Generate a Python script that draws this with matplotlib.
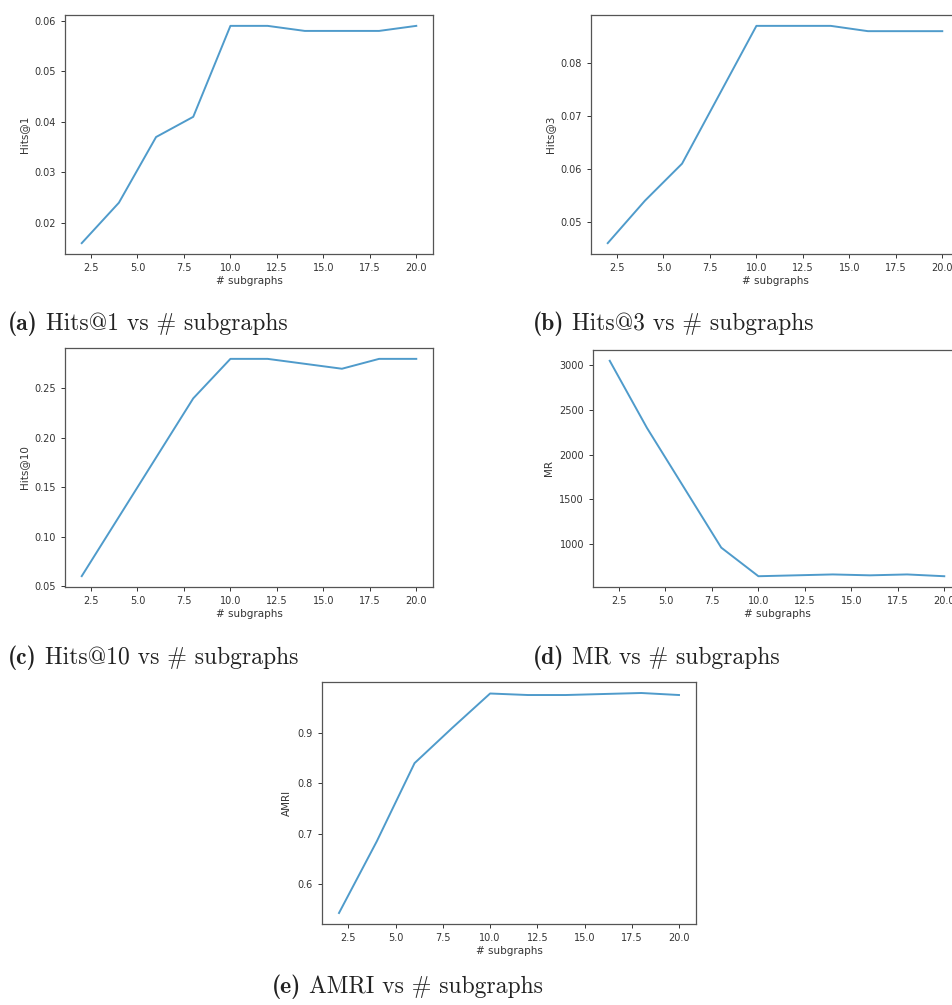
import matplotlib
matplotlib.use("Agg")
import matplotlib.pyplot as plt

# number of subgraphs on the x axis
subgraphs = [2, 4, 6, 8, 10, 12, 14, 16, 18, 20]

hits1 = [0.016, 0.024, 0.037, 0.041, 0.059, 0.059, 0.058, 0.058, 0.058, 0.059]
hits3 = [0.046, 0.054, 0.061, 0.074, 0.087, 0.087, 0.087, 0.086, 0.086, 0.086]
hits10 = [0.06, 0.12, 0.18, 0.24, 0.28, 0.28, 0.275, 0.27, 0.28, 0.28]
mr = [3050, 2300, 1630, 960, 640, 650, 660, 650, 660, 640]
amri = [0.543, 0.685, 0.84, 0.91, 0.978, 0.975, 0.975, 0.977, 0.979, 0.975]

xticks = [2.5, 5.0, 7.5, 10.0, 12.5, 15.0, 17.5, 20.0]
yticks_hits1 = [0.02, 0.03, 0.04, 0.05, 0.06]
yticks_hits3 = [0.05, 0.06, 0.07, 0.08]
yticks_hits10 = [0.05, 0.10, 0.15, 0.20, 0.25]
yticks_mr = [1000, 1500, 2000, 2500, 3000]
yticks_amri = [0.6, 0.7, 0.8, 0.9]

W, H = 952, 1005
fig = plt.figure(figsize=(W / 100, H / 100), dpi=100)

line_color = "#4f9bcb"
text_color = "#333333"
captions = []


def panel(box, y, ylabel, yticks, tag, caption, cap_xy):
    # box is (left, top, right, bottom) in pixels
    l, t, r, b = box
    ax = fig.add_axes([l / W, 1 - b / H, (r - l) / W, (b - t) / H])
    ax.plot(subgraphs, y, color=line_color, lw=1.4)
    ax.set_xticks(xticks)
    ax.set_yticks(yticks)
    ax.tick_params(labelsize=7, colors=text_color, length=3, width=0.7)
    for s in ax.spines.values():
        s.set_color("#555555")
        s.set_linewidth(0.9)
    ax.set_xlabel("# subgraphs", fontsize=7.5, color=text_color, labelpad=2)
    ax.set_ylabel(ylabel, fontsize=7.5, color=text_color, labelpad=4)
    t1 = fig.text(cap_xy[0] / W, 1 - cap_xy[1] / H, tag, fontsize=17,
                  family="cmb10", color="#222222", va="baseline", ha="left")
    captions.append((t1, caption, cap_xy[1]))
    return ax


panel((65, 15, 433, 254), hits1, "Hits@1", yticks_hits1,
      "(a)", "Hits@1 vs # subgraphs", (8, 330))
panel((591, 15, 959, 254), hits3, "Hits@3", yticks_hits3,
      "(b)", "Hits@3 vs # subgraphs", (533, 330))
panel((65, 348, 433, 587), hits10, "Hits@10", yticks_hits10,
      "(c)", "Hits@10 vs # subgraphs", (8, 664))
panel((593, 350, 961, 587), mr, "MR", yticks_mr,
      "(d)", "MR vs # subgraphs", (533, 664))
panel((322, 682, 696, 924), amri, "AMRI", yticks_amri,
      "(e)", "AMRI vs # subgraphs", (272, 993))

# put the regular caption text right after the bold tag
fig.canvas.draw()
renderer = fig.canvas.get_renderer()
for t1, rest, ybase in captions:
    x_end = t1.get_window_extent(renderer).x1
    fig.text((x_end + 8) / W, 1 - ybase / H, rest, fontsize=17,
             family="cmr10", color="#222222", va="baseline", ha="left")

fig.savefig("out.png", dpi=100)
